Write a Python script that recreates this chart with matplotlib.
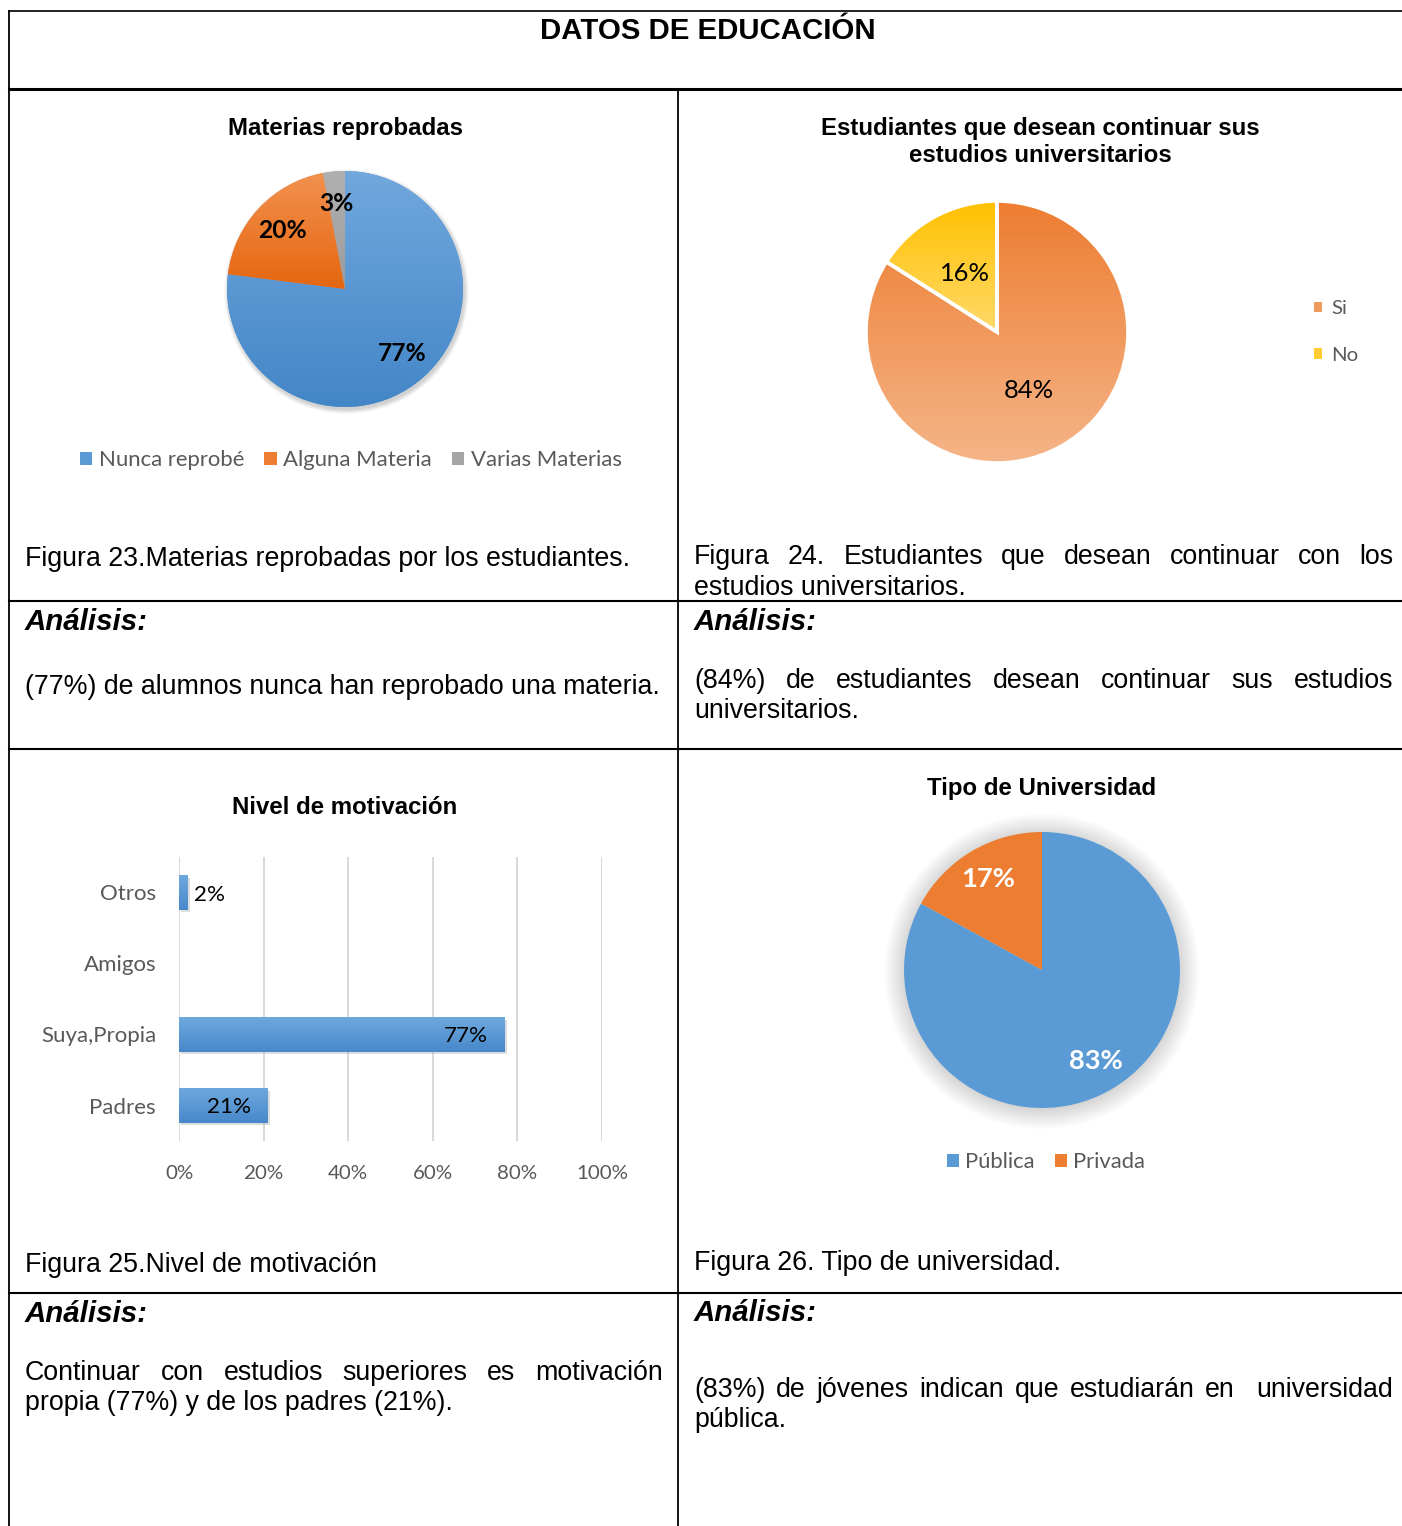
import matplotlib
matplotlib.use("Agg")
import matplotlib.pyplot as plt
import numpy as np
from matplotlib import font_manager
from matplotlib.colors import LinearSegmentedColormap
from matplotlib.patches import Circle
import matplotlib.patheffects as pe

# ---------------- data ----------------
doc_title = "DATOS DE EDUCACIÓN"

pie1_title = "Materias reprobadas"
pie1_labels = ["Nunca reprobé", "Alguna Materia", "Varias Materias"]
pie1_values = [77, 20, 3]

pie2_title = ["Estudiantes que desean continuar sus", "estudios universitarios"]
pie2_labels = ["Si", "No"]
pie2_values = [84, 16]

bar_title = "Nivel de motivación"
bar_categories = ["Otros", "Amigos", "Suya,Propia", "Padres"]
bar_values = [2, 0, 77, 21]
bar_ticks = [0, 20, 40, 60, 80, 100]

pie4_title = "Tipo de Universidad"
pie4_labels = ["Pública", "Privada"]
pie4_values = [83, 17]

analysis_label = "Análisis:"
cap23 = "Figura 23.Materias reprobadas por los estudiantes."
cap24 = ["Figura 24. Estudiantes que desean continuar con los", "estudios universitarios."]
cap25 = "Figura 25.Nivel de motivación"
cap26 = "Figura 26. Tipo de universidad."
an23 = "(77%) de alumnos nunca han reprobado una materia."
an24 = ["(84%) de estudiantes desean continuar sus estudios", "universitarios."]
an25 = ["Continuar con estudios superiores es motivación", "propia (77%) y de los padres (21%)."]
an26 = ["(83%) de jóvenes indican que estudiarán en  universidad", "pública."]

# ---------------- setup ----------------
W, H, DPI = 1402, 1526, 100
names = {f.name for f in font_manager.fontManager.ttflist}
BODY = "Liberation Sans Narrow" if "Liberation Sans Narrow" in names else "Liberation Sans"
CHART = "Lato" if "Lato" in names else "DejaVu Sans"
DY = 3  # small vertical adjustment for text centres

fig = plt.figure(figsize=(W / DPI, H / DPI), dpi=DPI)
fig.patch.set_facecolor("white")
bg = fig.add_axes([0, 0, 1, 1])
bg.set_xlim(0, W)
bg.set_ylim(H, 0)
bg.axis("off")
renderer = fig.canvas.get_renderer()


def text_w(s, fs, **kw):
    t = bg.text(0, 0, s, fontsize=fs, **kw)
    w = t.get_window_extent(renderer).width
    t.remove()
    return w


def fit(s, width, **kw):
    return 20 * width / text_w(s, 20, **kw)


def px_axes(x0, y0, x1, y1):
    return fig.add_axes([x0 / W, 1 - y1 / H, (x1 - x0) / W, (y1 - y0) / H])


def put(x, y, s, fs, ha="left", **kw):
    bg.text(x, y + DY, s, fontsize=fs, ha=ha, va="center", **kw)


def justify(line, x0, x1, y, fs, **kw):
    tokens = line.split(" ")
    words, gaps = [], []
    spaces = 0
    for tok in tokens:
        if tok == "":
            spaces += 1
            continue
        if words:
            gaps.append(spaces + 1)
        words.append(tok)
        spaces = 0
    widths = [text_w(w, fs, **kw) for w in words]
    unit = (x1 - x0 - sum(widths)) / sum(gaps)
    x = x0
    for i, (w, wd) in enumerate(zip(words, widths)):
        put(x, y, w, fs, **kw)
        if i < len(gaps):
            x += wd + unit * gaps[i]


def grad(ax, patch, bbox, top, bottom, inverted=False):
    cmap = LinearSegmentedColormap.from_list("g", [top, bottom])
    arr = np.linspace(0, 1, 256).reshape(-1, 1)
    if inverted:
        ext = [bbox.x0, bbox.x1, bbox.y1, bbox.y0]
    else:
        ext = [bbox.x0, bbox.x1, bbox.y0, bbox.y1]
    im = ax.imshow(arr, cmap=cmap, extent=ext, origin="upper", aspect="auto",
                   interpolation="bilinear", zorder=patch.get_zorder() + 0.1)
    im.set_clip_path(patch)


# ---------------- table lines ----------------
LC = "black"
bg.plot([9, W], [11, 11], color=LC, lw=1.2)
bg.plot([9, W], [89, 89], color=LC, lw=2.2)
for yy in [601, 749, 1293]:
    bg.plot([9, W], [yy, yy], color=LC, lw=1.5)
bg.plot([9, 9], [11, H], color=LC, lw=1.3)
bg.plot([678, 678], [89, H], color=LC, lw=1.3)

# ---------------- document text ----------------
body = dict(family=[BODY, "Liberation Sans", "DejaVu Sans"], color="black")
fs_doc = fit(doc_title, 335, weight="bold", **body)
put(708, 28, doc_title, fs_doc, ha="center", weight="bold", **body)

fs_body = fit(cap26, 366, **body)
fs_an = fit(analysis_label, 123, weight="bold", style="italic", **body)

# left column
put(25, 556, cap23, fs_body, **body)
put(25, 684, an23, fs_body, **body)
put(25, 1262, cap25, fs_body, **body)
justify(an25[0], 25, 663, 1370, fs_body, **body)
put(25, 1400, an25[1], fs_body, **body)
# right column
justify(cap24[0], 694, 1393, 554, fs_body, **body)
put(694, 585, cap24[1], fs_body, **body)
justify(an24[0], 694, 1393, 678, fs_body, **body)
put(694, 708, an24[1], fs_body, **body)
put(694, 1260, cap26, fs_body, **body)
justify(an26[0], 694, 1393, 1387, fs_body, **body)
put(694, 1417, an26[1], fs_body, **body)
for (xx, yy) in [(25, 619), (694, 619), (25, 1311), (694, 1310)]:
    put(xx, yy, analysis_label, fs_an, weight="bold", style="italic", **body)

# ---------------- chart titles ----------------
fs_ct = fit(pie1_title, 234, weight="bold", **body)
put(345, 125, pie1_title, fs_ct, ha="center", weight="bold", **body)
put(1040, 125, pie2_title[0], fs_ct, ha="center", weight="bold", **body)
put(1040, 152, pie2_title[1], fs_ct, ha="center", weight="bold", **body)
put(345, 804, bar_title, fs_ct, ha="center", weight="bold", **body)
put(1042, 786, pie4_title, fs_ct, ha="center", weight="bold", **body)

chart = dict(family=[CHART, "DejaVu Sans"])
fs_leg = fit(pie1_labels[0], 146, **chart)
GRAY = "#595959"


def make_pie(cx, cy, R, values, colors, pctd, pct_kw, m=1.25):
    ax = px_axes(cx - R * m, cy - R * m, cx + R * m, cy + R * m)
    wedges, _, autotexts = ax.pie(values, colors=colors, startangle=90, counterclock=False,
                                  radius=1, autopct=lambda p: f"{p:.0f}%",
                                  pctdistance=pctd, textprops=pct_kw)
    for t in autotexts:
        t.set_zorder(5)
    return ax, wedges


def finish(ax, m=1.25):
    ax.set_xlim(-m, m)
    ax.set_ylim(-m, m)
    ax.set_aspect("equal")
    ax.axis("off")


# ---------------- pie 1 ----------------
fs_p1 = fit("77%", 49, weight="bold", **chart)
ax1, w1 = make_pie(345, 289, 118, pie1_values, ["#5B9BD5", "#ED7D31", "#A5A5A5"], 0.73,
                   dict(fontsize=fs_p1, weight="bold", color="black", **chart))
for k in range(6):
    ax1.add_patch(Circle((0.012, -0.022), 1.0 + 0.007 * k, color="black", alpha=0.03, zorder=0.5, lw=0))
ax1.legend(w1, pie1_labels, loc="center", bbox_to_anchor=(351, 460), bbox_transform=bg.transData,
           ncol=3, frameon=False, prop=dict(size=fs_leg, **chart), labelcolor=GRAY,
           handlelength=0.55, handleheight=0.55, handletextpad=0.3, columnspacing=0.9,
           borderpad=0, borderaxespad=0)
p1_grads = [("#71A8DD", "#4386C8"), ("#F2914F", "#E5660F"), ("#B0B0B0", "#9C9C9C")]
for w, (t, b) in zip(w1, p1_grads):
    grad(ax1, w, w.get_path().get_extents(), t, b)
finish(ax1)

# ---------------- pie 2 ----------------
fs_p2 = fit("84%", 50, **chart)
ax2, w2 = make_pie(997, 332, 131, pie2_values, ["#F09A5E", "#FFCC33"], 0.51,
                   dict(fontsize=fs_p2, color="black", **chart))
fs_leg2 = fit("No", 27, **chart)
ax2.legend(w2, pie2_labels, loc="center left", bbox_to_anchor=(1314, 332), bbox_transform=bg.transData,
           ncol=1, frameon=False, prop=dict(size=fs_leg2, **chart), labelcolor=GRAY,
           handlelength=0.4, handleheight=0.4, handletextpad=0.45, labelspacing=1.45,
           borderpad=0, borderaxespad=0)
p2_grads = [("#ED7D31", "#F5B588"), ("#FFC000", "#FFDA6A")]
for w, (t, b) in zip(w2, p2_grads):
    grad(ax2, w, w.get_path().get_extents(), t, b)
w2_out, _ = ax2.pie(pie2_values, startangle=90, counterclock=False, radius=1,
                    wedgeprops=dict(facecolor="none", edgecolor="white", linewidth=2.6))
for w in w2_out:
    w.set_zorder(3)
finish(ax2)

# ---------------- bar chart ----------------
axb = px_axes(179, 857, 602, 1141)
ypos = np.arange(len(bar_categories))
bars = axb.barh(ypos, bar_values, height=0.48, color="#5B9BD5", zorder=2)
for b in bars:
    b.set_path_effects([pe.SimplePatchShadow(offset=(1.5, -1.8), shadow_rgbFace="#909090", alpha=0.3),
                        pe.Normal()])
axb.set_xlim(0, 100)
axb.set_ylim(len(bar_categories) - 0.5, -0.5)
for b in bars:
    if b.get_width() > 0:
        grad(axb, b, b.get_bbox(), "#6FA8DE", "#4788CA", inverted=True)
axb.set_xlim(0, 100)
axb.set_ylim(len(bar_categories) - 0.5, -0.5)
axb.set_xticks(bar_ticks)
fs_tick = fit("100%", 52, **chart)
axb.set_xticklabels([f"{t}%" for t in bar_ticks], fontsize=fs_tick, color=GRAY, **chart)
fs_cat = fit("Suya,Propia", 115, **chart)
axb.set_yticks(ypos)
axb.set_yticklabels(bar_categories, fontsize=fs_cat, color=GRAY, **chart)
axb.tick_params(axis="x", length=0, pad=17)
axb.tick_params(axis="y", length=0, pad=16.5)
axb.grid(axis="x", color="#D9D9D9", lw=1.4)
axb.set_axisbelow(True)
for s in axb.spines.values():
    s.set_visible(False)
axb.set_facecolor("none")
fs_bl = fit("77%", 44, **chart)
for yv, v in zip(ypos, bar_values):
    if v == 0:
        continue
    if v < 10:
        axb.annotate(f"{v}%", (v, yv), xytext=(5, -2), textcoords="offset points",
                     ha="left", va="center", fontsize=fs_bl, color="black", zorder=6, **chart)
    else:
        axb.annotate(f"{v}%", (v, yv), xytext=(-12, -1), textcoords="offset points",
                     ha="right", va="center", fontsize=fs_bl, color="black", zorder=6, **chart)

# ---------------- pie 4 ----------------
fs_p4 = fit("83%", 54, weight="bold", **chart)
ax4, w4 = make_pie(1042, 970, 138, pie4_values, ["#5B9BD5", "#ED7D31"], 0.77,
                   dict(fontsize=fs_p4, weight="bold", color="white", **chart))
for k in range(14):
    ax4.add_patch(Circle((0, -0.01), 1.0 + 0.011 * k, color="black", alpha=0.011, zorder=0.5, lw=0))
fs_leg4 = fit(pie4_labels[0], 70, **chart)
ax4.legend(w4, pie4_labels, loc="center", bbox_to_anchor=(1046, 1162), bbox_transform=bg.transData,
           ncol=2, frameon=False, prop=dict(size=fs_leg4, **chart), labelcolor=GRAY,
           handlelength=0.55, handleheight=0.55, handletextpad=0.3, columnspacing=0.9,
           borderpad=0, borderaxespad=0)
finish(ax4)

fig.savefig("out.png", dpi=DPI, facecolor="white")
